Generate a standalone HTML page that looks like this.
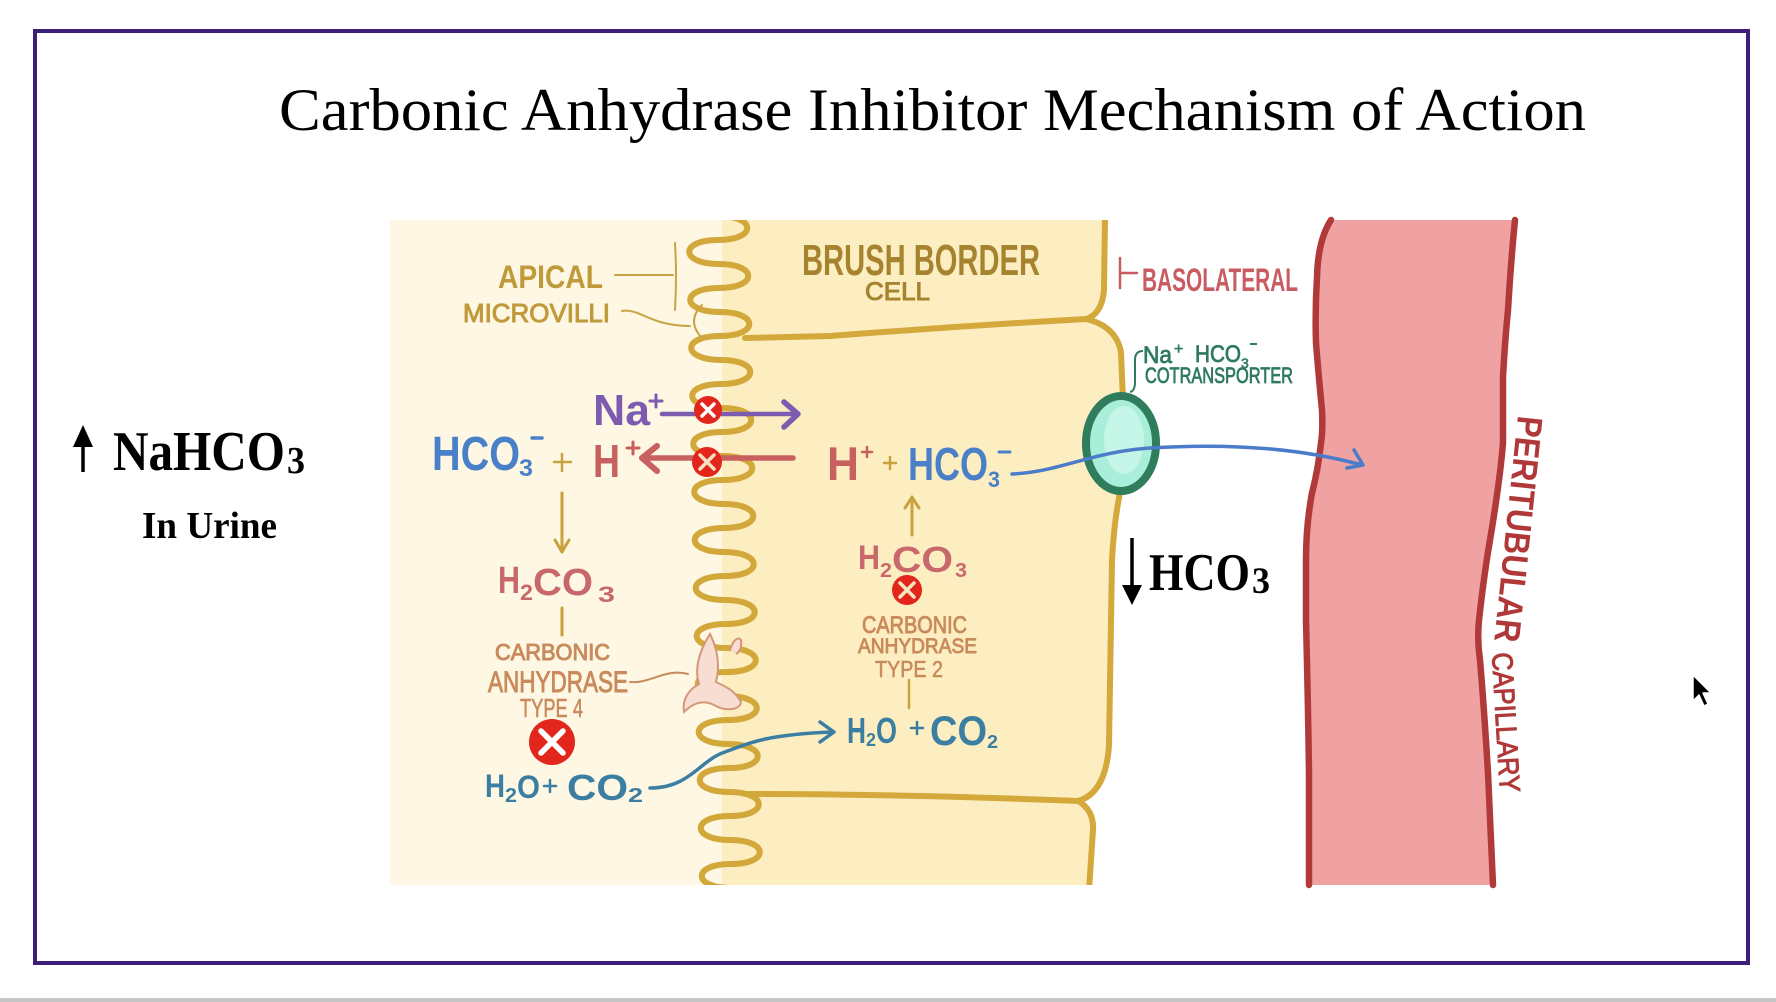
<!DOCTYPE html>
<html>
<head>
<meta charset="utf-8">
<style>
  html,body{margin:0;padding:0;background:#ffffff;}
  body{width:1776px;height:1002px;overflow:hidden;}
  svg{display:block;}
  .hs{font-family:"Liberation Sans",sans-serif;font-weight:700;}
  .hn{font-family:"Liberation Sans",sans-serif;font-weight:400;}
  .sf{font-family:"Liberation Serif",serif;}
</style>
</head>
<body>
<svg width="1776" height="1002" viewBox="0 0 1776 1002" xmlns="http://www.w3.org/2000/svg">
  <defs>
    <clipPath id="img"><rect x="390" y="220" width="1140" height="665"/></clipPath>
  </defs>
  <rect x="0" y="0" width="1776" height="1002" fill="#ffffff"/>
  <!-- frame -->
  <rect x="35" y="31" width="1713" height="932" fill="none" stroke="#3d1f7a" stroke-width="4"/>
  <!-- bottom gray bar -->
  <rect x="0" y="998" width="1776" height="4" fill="#c6c6c6"/>

  <!-- title -->
  <text class="sf" x="279" y="130" font-size="60" textLength="1307" lengthAdjust="spacingAndGlyphs" fill="#000">Carbonic Anhydrase Inhibitor Mechanism of Action</text>

  <!-- left labels -->
  <line x1="83" y1="441" x2="83" y2="472" stroke="#000" stroke-width="3.5"/>
  <polygon points="73,447 83,425 93,447" fill="#000"/>
  <text class="sf" x="113" y="470" font-size="56" font-weight="700" textLength="172" lengthAdjust="spacingAndGlyphs" fill="#000">NaHCO</text>
  <text class="sf" x="287" y="473" font-size="38" font-weight="700" textLength="18" lengthAdjust="spacingAndGlyphs" fill="#000">3</text>
  <text class="sf" x="142" y="538" font-size="38" font-weight="700" textLength="135" lengthAdjust="spacingAndGlyphs" fill="#000">In Urine</text>

  <!-- ===== cartoon ===== -->
  <!-- lumen -->
  <rect x="390" y="220" width="345" height="665" fill="#fdf7e3"/>
  <!-- cell fill -->
  <path d="M722 220 L1105 220 L1104 290 Q1102 314 1086 319 Q1116 326 1121 352 L1123 440 L1121 490 Q1114 520 1112 560 L1109 745 Q1106 793 1078 801 Q1094 810 1093 830 L1089 885 L722 885 Z" fill="#fdeec1"/>

  <g clip-path="url(#img)">
  <!-- cell boundaries -->
  <g fill="none" stroke="#d4a83a" stroke-width="6" stroke-linecap="round" stroke-linejoin="round">
    <path d="M1105 216 L1104 290 Q1102 314 1086 319 Q1116 326 1121 352 L1123 400"/>
    <path d="M1121 488 Q1114 520 1112 560 L1109 745 Q1106 793 1078 801 Q1094 810 1093 830 L1089 890"/>
    <path d="M745 338 L830 336 Q960 326 1086 319"/>
    <path d="M745 794 Q900 794 1078 801"/>
  </g>

  <!-- microvilli serpentine -->
  <path fill="none" stroke="#d3a83a" stroke-width="6" stroke-linecap="round"
   d="M718 216
   C757 216 757 240 718 240
   C679 240 680 264 719 264
   C758 264 758 288 719 288
   C680 288 681 312 720 312
   C759 312 759 336 720 336
   C681 336 682 360 721 360
   C760 360 760 384 721 384
   C682 384 683 408 722 408
   C761 408 761 432 722 432
   C683 432 684 456 723 456
   C762 456 762 480 723 480
   C684 480 685 504 724 504
   C763 504 763 528 724 528
   C685 528 685 552 724 552
   C763 552 764 576 725 576
   C686 576 686 600 725 600
   C764 600 765 624 726 624
   C687 624 687 648 726 648
   C765 648 766 672 727 672
   C688 672 688 696 727 696
   C766 696 767 720 728 720
   C689 720 689 744 728 744
   C767 744 768 768 729 768
   C690 768 690 792 729 792
   C768 792 769 816 730 816
   C691 816 691 840 730 840
   C769 840 770 864 731 864
   C692 864 692 888 731 888"/>
  </g>

  <!-- apical labels -->
  <text class="hs" x="498" y="288" font-size="32" textLength="105" lengthAdjust="spacingAndGlyphs" fill="#c09a3a">APICAL</text>
  <text class="hn" x="463" y="322" font-size="26" textLength="147" lengthAdjust="spacingAndGlyphs" fill="#c09a3a" stroke="#c09a3a" stroke-width="1">MICROVILLI</text>
  <g fill="none" stroke="#c9a445" stroke-width="2" stroke-linecap="round">
    <path d="M615 275 L673 275"/>
    <path d="M675 243 Q677 276 675 310"/>
    <path d="M622 311 C640 308 650 326 690 326"/>
    <path d="M702 305 Q686 321 702 338"/>
  </g>

  <!-- brush border cell -->
  <text class="hs" x="802" y="275" font-size="44" textLength="238" lengthAdjust="spacingAndGlyphs" fill="#a5832f">BRUSH BORDER</text>
  <text class="hn" x="865" y="300" font-size="25" textLength="65" lengthAdjust="spacingAndGlyphs" fill="#a5832f" stroke="#a5832f" stroke-width="1">CELL</text>

  <!-- basolateral -->
  <g stroke="#c85c62" stroke-width="2.5" stroke-linecap="round">
    <line x1="1120" y1="258" x2="1120" y2="288"/>
    <line x1="1120" y1="273" x2="1137" y2="273"/>
  </g>
  <text class="hs" x="1142" y="291" font-size="32" textLength="156" lengthAdjust="spacingAndGlyphs" fill="#c85c62">BASOLATERAL</text>

  <!-- cotransporter label -->
  <path d="M1143 351 Q1135 351 1135 360 L1135 382 Q1135 391 1130 392" fill="none" stroke="#2e7a60" stroke-width="2"/>
  <text class="hn" x="1143" y="363" font-size="24" textLength="29" lengthAdjust="spacingAndGlyphs" fill="#2e7a60" stroke="#2e7a60" stroke-width="0.8">Na</text>
  <text class="hn" x="1174" y="354" font-size="16" fill="#2e7a60" stroke="#2e7a60" stroke-width="0.6">+</text>
  <text class="hn" x="1195" y="362" font-size="24" textLength="46" lengthAdjust="spacingAndGlyphs" fill="#2e7a60" stroke="#2e7a60" stroke-width="0.8">HCO</text>
  <text class="hn" x="1241" y="368" font-size="14" fill="#2e7a60" stroke="#2e7a60" stroke-width="0.6">3</text>
  <line x1="1250" y1="344" x2="1257" y2="344" stroke="#2e7a60" stroke-width="2"/>
  <text class="hn" x="1145" y="383" font-size="22" textLength="148" lengthAdjust="spacingAndGlyphs" fill="#2e7a60" stroke="#2e7a60" stroke-width="0.8">COTRANSPORTER</text>

  <!-- capillary -->
  <path d="M1331 220 Q1318 240 1317 277 Q1315 310 1316 343 Q1319 380 1322 410 Q1323 430 1321 443 Q1318 470 1312 493 Q1306 525 1306 560 L1306 620 Q1308 700 1309 773 L1309 885 L1493 885 L1488 773 Q1484 707 1480 660 Q1477 640 1479 620 Q1484 575 1490 540 Q1500 480 1503 443 L1503 377 Q1505 340 1508 310 Q1511 260 1515 220 Z" fill="#f0a2a2"/>
  <g fill="none" stroke="#b03a3a" stroke-width="6.5" stroke-linecap="round">
    <path d="M1331 220 Q1318 240 1317 277 Q1315 310 1316 343 Q1319 380 1322 410 Q1323 430 1321 443 Q1318 470 1312 493 Q1306 525 1306 560 L1306 620 Q1308 700 1309 773 L1309 885"/>
    <path d="M1515 220 Q1511 260 1508 310 Q1505 340 1503 377 L1503 443 Q1500 480 1490 540 Q1484 575 1479 620 Q1477 640 1480 660 Q1484 707 1488 773 L1493 885"/>
  </g>
  <text class="hs" transform="translate(1518,415) rotate(96)" x="0" y="0" font-size="36" textLength="227" lengthAdjust="spacingAndGlyphs" fill="#b03838">PERITUBULAR</text>
  <text class="hn" transform="translate(1492,653) rotate(86.7)" x="0" y="0" font-size="29" textLength="140" lengthAdjust="spacingAndGlyphs" fill="#b03838" stroke="#b03838" stroke-width="1">CAPILLARY</text>

  <!-- transporter -->
  <ellipse cx="1121" cy="443.5" rx="35" ry="47.5" fill="#a9eed9" stroke="#2f7d5d" stroke-width="8"/>
  <ellipse cx="1124" cy="440" rx="20" ry="34" fill="#c6f6e7"/>

  <!-- blue HCO3 path to capillary -->
  <path d="M1012 474 C1060 472 1090 452 1150 448 C1230 443 1300 448 1362 465" fill="none" stroke="#4a7cc9" stroke-width="3.5" stroke-linecap="round"/>
  <path d="M1354 450 L1363 465 L1347 468" fill="none" stroke="#4a7cc9" stroke-width="3.5" stroke-linecap="round" stroke-linejoin="round"/>

  <!-- Na+ arrow -->
  <text class="hs" x="593" y="425" font-size="44" textLength="57" lengthAdjust="spacingAndGlyphs" fill="#7d5bb0">Na</text>
  <g stroke="#7d5bb0" stroke-width="3" stroke-linecap="round">
    <line x1="650" y1="401" x2="662" y2="401"/>
    <line x1="656" y1="395" x2="656" y2="407"/>
  </g>
  <line x1="662" y1="414" x2="796" y2="414" stroke="#7d5bb0" stroke-width="4.5" stroke-linecap="round"/>
  <path d="M784 402 L798 414 L784 427" fill="none" stroke="#7d5bb0" stroke-width="5.5" stroke-linecap="round" stroke-linejoin="round"/>

  <!-- H+ arrow -->
  <text class="hs" x="593" y="477" font-size="46" textLength="27" lengthAdjust="spacingAndGlyphs" fill="#c8605f">H</text>
  <g stroke="#c8605f" stroke-width="3" stroke-linecap="round">
    <line x1="627" y1="448" x2="639" y2="448"/>
    <line x1="633" y1="442" x2="633" y2="454"/>
  </g>
  <line x1="793" y1="458" x2="643" y2="458" stroke="#c8605f" stroke-width="5.5" stroke-linecap="round"/>
  <path d="M657 446 L642 458 L657 471" fill="none" stroke="#c8605f" stroke-width="6" stroke-linecap="round" stroke-linejoin="round"/>

  <!-- HCO3- left -->
  <text class="hs" x="432" y="470" font-size="48" textLength="88" lengthAdjust="spacingAndGlyphs" fill="#4a80c8">HCO</text>
  <text class="hs" x="519" y="476" font-size="24" textLength="14" lengthAdjust="spacingAndGlyphs" fill="#4a80c8">3</text>
  <line x1="532" y1="438" x2="542" y2="438" stroke="#4a80c8" stroke-width="3.5" stroke-linecap="round"/>
  <g stroke="#c9a13e" stroke-width="2.5" stroke-linecap="round">
    <line x1="554" y1="462" x2="571" y2="462"/>
    <line x1="562" y1="454" x2="562" y2="471"/>
  </g>
  <!-- down arrow left -->
  <g fill="none" stroke="#c9a13e" stroke-width="3" stroke-linecap="round" stroke-linejoin="round">
    <line x1="562" y1="493" x2="562" y2="550"/>
    <path d="M555 540 L562 552 L569 540"/>
  </g>

  <!-- H2CO3 left -->
  <text class="hs" x="498" y="593" font-size="38" textLength="22" lengthAdjust="spacingAndGlyphs" fill="#c9686b">H</text>
  <text class="hs" x="520" y="600" font-size="22" textLength="13" lengthAdjust="spacingAndGlyphs" fill="#c9686b">2</text>
  <text class="hs" x="533" y="595" font-size="38" textLength="60" lengthAdjust="spacingAndGlyphs" fill="#c9686b">CO</text>
  <text class="hs" x="598" y="602" font-size="22" textLength="17" lengthAdjust="spacingAndGlyphs" fill="#c9686b">3</text>
  <line x1="562" y1="608" x2="562" y2="635" stroke="#c9a13e" stroke-width="3" stroke-linecap="round"/>

  <!-- CA IV label -->
  <text class="hn" x="495" y="660" font-size="23" textLength="115" lengthAdjust="spacingAndGlyphs" fill="#c98a5c" stroke="#c98a5c" stroke-width="1">CARBONIC</text>
  <text class="hn" x="488" y="692" font-size="30" textLength="140" lengthAdjust="spacingAndGlyphs" fill="#c98a5c" stroke="#c98a5c" stroke-width="1">ANHYDRASE</text>
  <text class="hn" x="520" y="717" font-size="26" textLength="63" lengthAdjust="spacingAndGlyphs" fill="#c98a5c" stroke="#c98a5c" stroke-width="0.6">TYPE 4</text>
  <path d="M630 682 C650 684 665 668 688 674" fill="none" stroke="#c98a5c" stroke-width="2" stroke-linecap="round"/>
  <!-- enzyme -->
  <path d="M710 634 C700 650 694 668 699 684 C688 690 682 700 684 712 C694 702 704 700 714 705 C726 712 740 710 741 702 C735 690 724 686 716 682 C720 666 718 650 710 634 Z" fill="#f8ddd2" stroke="#d49878" stroke-width="2"/>
  <path d="M730 650 C733 640 738 636 741 640 C742 646 740 652 736 654" fill="#f8ddd2" stroke="#d49878" stroke-width="2"/>

  <!-- H2O + CO2 left -->
  <g fill="#3b7ea1">
    <text class="hs" x="485" y="797" font-size="32" textLength="20" lengthAdjust="spacingAndGlyphs">H</text>
    <text class="hs" x="505" y="802" font-size="20" textLength="12" lengthAdjust="spacingAndGlyphs">2</text>
    <text class="hs" x="517" y="798" font-size="32" textLength="23" lengthAdjust="spacingAndGlyphs">O</text>
    <text class="hs" x="567" y="800" font-size="36" textLength="61" lengthAdjust="spacingAndGlyphs">CO</text>
    <text class="hs" x="628" y="802" font-size="20" textLength="15" lengthAdjust="spacingAndGlyphs">2</text>
  </g>
  <g stroke="#3b7ea1" stroke-width="2.5" stroke-linecap="round">
    <line x1="544" y1="786" x2="556" y2="786"/>
    <line x1="550" y1="780" x2="550" y2="792"/>
  </g>
  <!-- teal arrow -->
  <path d="M650 788 C690 788 700 760 725 752 C745 745 760 735 831 732" fill="none" stroke="#3b7ea1" stroke-width="3.5" stroke-linecap="round"/>
  <path d="M820 722 L834 732 L820 742" fill="none" stroke="#3b7ea1" stroke-width="3.5" stroke-linecap="round" stroke-linejoin="round"/>

  <!-- middle H+ + HCO3- -->
  <text class="hs" x="827" y="480" font-size="47" textLength="32" lengthAdjust="spacingAndGlyphs" fill="#c8605f">H</text>
  <g stroke="#c8605f" stroke-width="2.5" stroke-linecap="round">
    <line x1="862" y1="452" x2="872" y2="452"/>
    <line x1="867" y1="447" x2="867" y2="457"/>
  </g>
  <g stroke="#c9a13e" stroke-width="2.5" stroke-linecap="round">
    <line x1="884" y1="463" x2="896" y2="463"/>
    <line x1="890" y1="457" x2="890" y2="469"/>
  </g>
  <text class="hs" x="908" y="480" font-size="46" textLength="80" lengthAdjust="spacingAndGlyphs" fill="#4a80c8">HCO</text>
  <text class="hs" x="988" y="487" font-size="22" textLength="12" lengthAdjust="spacingAndGlyphs" fill="#4a80c8">3</text>
  <line x1="999" y1="452" x2="1010" y2="452" stroke="#4a80c8" stroke-width="3" stroke-linecap="round"/>

  <!-- up arrow middle -->
  <g fill="none" stroke="#c9a13e" stroke-width="3" stroke-linecap="round" stroke-linejoin="round">
    <line x1="912" y1="535" x2="912" y2="498"/>
    <path d="M905 508 L912 497 L919 508"/>
  </g>

  <!-- H2CO3 middle -->
  <text class="hs" x="858" y="569" font-size="34" textLength="22" lengthAdjust="spacingAndGlyphs" fill="#c9686b">H</text>
  <text class="hs" x="880" y="577" font-size="20" textLength="12" lengthAdjust="spacingAndGlyphs" fill="#c9686b">2</text>
  <text class="hs" x="892" y="572" font-size="36" textLength="61" lengthAdjust="spacingAndGlyphs" fill="#c9686b">CO</text>
  <text class="hs" x="955" y="577" font-size="20" textLength="12" lengthAdjust="spacingAndGlyphs" fill="#c9686b">3</text>

  <!-- CA II label -->
  <text class="hn" x="862" y="633" font-size="24" textLength="105" lengthAdjust="spacingAndGlyphs" fill="#c98a5c" stroke="#c98a5c" stroke-width="0.9">CARBONIC</text>
  <text class="hn" x="858" y="653" font-size="21" textLength="119" lengthAdjust="spacingAndGlyphs" fill="#c98a5c" stroke="#c98a5c" stroke-width="0.9">ANHYDRASE</text>
  <text class="hn" x="875" y="677" font-size="23" textLength="68" lengthAdjust="spacingAndGlyphs" fill="#c98a5c" stroke="#c98a5c" stroke-width="0.6">TYPE 2</text>
  <line x1="909" y1="680" x2="909" y2="708" stroke="#c9a13e" stroke-width="2.5" stroke-linecap="round"/>

  <!-- H2O + CO2 middle -->
  <g fill="#3b7ea1">
    <text class="hs" x="847" y="743" font-size="36" textLength="19" lengthAdjust="spacingAndGlyphs">H</text>
    <text class="hs" x="866" y="746" font-size="18" textLength="10" lengthAdjust="spacingAndGlyphs">2</text>
    <text class="hs" x="876" y="743" font-size="36" textLength="21" lengthAdjust="spacingAndGlyphs">O</text>
    <text class="hs" x="930" y="745" font-size="42" textLength="57" lengthAdjust="spacingAndGlyphs">CO</text>
    <text class="hs" x="987" y="748" font-size="18" textLength="11" lengthAdjust="spacingAndGlyphs">2</text>
  </g>
  <g stroke="#3b7ea1" stroke-width="2.5" stroke-linecap="round">
    <line x1="911" y1="728" x2="923" y2="728"/>
    <line x1="917" y1="722" x2="917" y2="734"/>
  </g>

  <!-- red X markers -->
  <g>
    <circle cx="708" cy="410" r="14" fill="#e3261b"/>
    <path d="M702 404 L714 416 M714 404 L702 416" stroke="#fff" stroke-width="3.5" stroke-linecap="round"/>
    <circle cx="707" cy="462" r="15" fill="#e3261b"/>
    <path d="M700 455 L714 469 M714 455 L700 469" stroke="#f4e0c0" stroke-width="3.5" stroke-linecap="round"/>
    <circle cx="907" cy="590" r="15" fill="#e3261b"/>
    <path d="M900 583 L914 597 M914 583 L900 597" stroke="#f6e6c0" stroke-width="3.5" stroke-linecap="round"/>
    <circle cx="552" cy="742" r="23" fill="#e3261b"/>
    <path d="M541 731 L563 753 M563 731 L541 753" stroke="#fff" stroke-width="5.5" stroke-linecap="round"/>
  </g>

  <!-- right HCO3 label -->
  <line x1="1132" y1="538" x2="1132" y2="590" stroke="#000" stroke-width="3.5"/>
  <polygon points="1122,585 1142,585 1132,605" fill="#000"/>
  <text class="sf" x="1149" y="590" font-size="53" font-weight="700" textLength="101" lengthAdjust="spacingAndGlyphs" fill="#000">HCO</text>
  <text class="sf" x="1252" y="593" font-size="37" font-weight="700" textLength="18" lengthAdjust="spacingAndGlyphs" fill="#000">3</text>

  <!-- cursor -->
  <polygon points="1693,675 1693,701 1699,695 1704,706 1708,704 1703,693 1711,693" fill="#000" stroke="#fff" stroke-width="1.5" stroke-linejoin="round"/>
</svg>
</body>
</html>
